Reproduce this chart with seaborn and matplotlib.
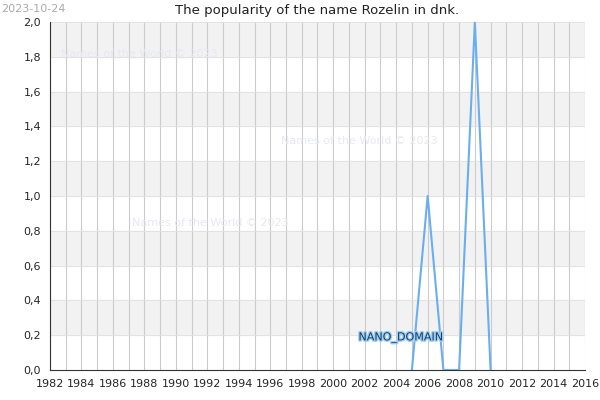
import numpy as np
import matplotlib.pyplot as plt
import matplotlib.patheffects as pe
import seaborn as sns
import pandas as pd

years = [2005, 2006, 2007, 2008, 2009, 2010]
values = [0, 1, 0, 0, 2, 0]
df = pd.DataFrame({"year": years, "value": values})

sns.set_style("white")
plt.rcParams['font.family'] = ['DejaVu Sans']

fig = plt.figure(figsize=(6, 4), dpi=100)
ax = fig.add_axes([50/600, 30/400, 535/600, 348/400])

# alternating bands
for lo in np.arange(0.2, 2.0, 0.4):
    ax.axhspan(lo, lo + 0.2, color='#f2f2f2', zorder=0)
for yr in range(1982, 2017):
    ax.axvline(yr, color='#cccccc', lw=0.8, zorder=1)
for v in np.arange(0.2, 2.01, 0.2):
    ax.axhline(v, color='#e0e0e0', lw=0.6, zorder=1)

sns.lineplot(data=df, x="year", y="value", ax=ax, color='#6aaef0', lw=1.5, zorder=3)

ax.set_xlim(1982, 2016)
ax.set_ylim(0, 2.0)
xt = list(range(1982, 2017, 2))
ax.set_xticks(xt)
ax.set_xticklabels([str(x) for x in xt], fontsize=8)
yt = np.arange(0, 2.01, 0.2)
ax.set_yticks(yt)
ax.set_yticklabels([f"{v:.1f}".replace('.', ',') for v in yt], fontsize=8)
ax.set_xlabel("")
ax.set_ylabel("")
ax.tick_params(length=3, color='#333333')
for s in ['top', 'right']:
    ax.spines[s].set_visible(False)
ax.spines['left'].set_color('#333333')
ax.spines['bottom'].set_color('#333333')

ax.set_title("The popularity of the name Rozelin in dnk.", fontsize=9.5, pad=6, color='#222222')
fig.text(0.002, 0.99, "2023-10-24", fontsize=8, color='#aaaaaa', va='top')

wm = dict(fontsize=8, color='#e8e8f4', zorder=2)
ax.text(1982.7, 1.8, "Names of the World © 2023", **wm)
ax.text(1996.7, 1.3, "Names of the World © 2023", **wm)
ax.text(1987.2, 0.83, "Names of the World © 2023", **wm)

t = ax.text(2004.3, 0.17, "NANO_DOMAIN", fontsize=8, color='#1a3a6a', ha='center', zorder=4)
t.set_path_effects([pe.withStroke(linewidth=2, foreground='#9fd0f0')])

fig.savefig("out.png", dpi=100)
